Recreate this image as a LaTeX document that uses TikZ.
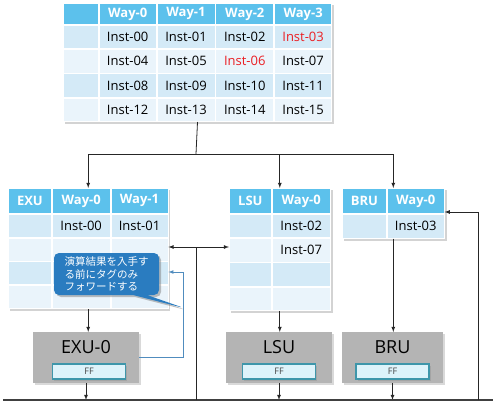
\documentclass[tikz,border=0pt]{standalone}
\usepackage{fontspec}
\setmainfont{Open Sans}
\newfontfamily\cjk{Noto Sans CJK JP}
\usepackage{tikz}
\usetikzlibrary{arrows,shapes,shadows,shapes.callouts}
\usetikzlibrary{positioning}
\usetikzlibrary{matrix}
\definecolor{hdr}{RGB}{92,193,236}
\definecolor{rowa}{RGB}{212,234,247}
\definecolor{rowb}{RGB}{234,244,251}
\definecolor{fugray}{RGB}{180,180,180}
\definecolor{ffbox}{RGB}{221,243,250}
\definecolor{ffline}{RGB}{62,150,170}
\definecolor{tagblue}{RGB}{42,124,192}
\definecolor{tagline}{RGB}{80,140,190}
\definecolor{instred}{RGB}{235,30,35}
\tikzstyle{tbl}=[matrix of nodes, nodes in empty cells, inner sep=0, outer sep=0,
  column sep=0, row sep=0, fill=white,
  drop shadow={shadow xshift=2pt, shadow yshift=-2pt, opacity=.35},
  nodes={draw=white, line width=.8pt, inner sep=0, outer sep=0, anchor=center,
         font=\fontsize{13}{13}\selectfont},
  row 1/.style={nodes={fill=hdr, text=white, font=\fontsize{13}{13}\selectfont\bfseries}},
  row 2/.style={nodes={fill=rowa}}, row 3/.style={nodes={fill=rowb}},
  row 4/.style={nodes={fill=rowa}}, row 5/.style={nodes={fill=rowb}}]
\tikzstyle{fu}=[fill=fugray, minimum height=51, inner sep=0, outer sep=0,
  font=\fontsize{18}{18}\selectfont, text height=13, text depth=22,
  drop shadow={shadow xshift=2pt, shadow yshift=-2pt, opacity=.3}]
\tikzstyle{ff}=[fill=ffbox, draw=ffline, line width=1.2pt, minimum width=73,
  minimum height=15, inner sep=0, outer sep=0, text=black!75,
  font=\fontsize{9}{9}\selectfont,
  drop shadow={shadow xshift=1.5pt, shadow yshift=-1.5pt, opacity=.3}]
\tikzstyle{wire}=[draw=black!85, line width=.8pt]
\tikzstyle{bus}=[draw=black!75, line width=1.1pt]
\tikzstyle{tagwire}=[draw=tagline, line width=.7pt]
\tikzstyle{note}=[rectangle callout, fill=tagblue, rounded corners=5pt,
  minimum width=105, minimum height=42, inner sep=0, text=white, align=left,
  callout pointer width=14pt, font=\cjk\fontsize{10.5}{12.5}\selectfont,
  drop shadow={shadow xshift=2pt, shadow yshift=-2pt, opacity=.5}]

\begin{document}
\begin{tikzpicture}[x=1pt,y=-1pt,>=latex]
  \useasboundingbox (0,0) rectangle (500,415);
  % instruction buffer
  \matrix (buf) [tbl, anchor=north west, nodes={minimum height=23.5},
    row 1/.append style={nodes={minimum height=21}},
    column 1/.style={nodes={minimum width=35}}, column 2/.style={nodes={minimum width=57}},
    column 3/.style={nodes={minimum width=58}}, column 4/.style={nodes={minimum width=58}},
    column 5/.style={nodes={minimum width=57}}] at (63,3) {
      & Way-0 & Way-1 & Way-2 & Way-3 \\
      & Inst-00 & Inst-01 & Inst-02 & |[text=instred]| Inst-03 \\
      & Inst-04 & Inst-05 & |[text=instred]| Inst-06 & Inst-07 \\
      & Inst-08 & Inst-09 & Inst-10 & Inst-11 \\
      & Inst-12 & Inst-13 & Inst-14 & Inst-15 \\
    };
  % reservation stations
  \matrix (exu) [tbl, anchor=north west, nodes={minimum height=23},
    row 1/.append style={nodes={minimum height=25}},
    column 1/.style={nodes={minimum width=43}}, column 2/.style={nodes={minimum width=58}},
    column 3/.style={nodes={minimum width=57}}] at (8,188) {
      EXU & Way-0 & Way-1 \\
      & Inst-00 & Inst-01 \\
      & & \\
      & & \\
      & & \\
    };
  \matrix (lsu) [tbl, anchor=north west, nodes={minimum height=23.5},
    row 1/.append style={nodes={minimum height=25}},
    column 1/.style={nodes={minimum width=42}}, column 2/.style={nodes={minimum width=58}}]
    at (229,188) {
      LSU & Way-0 \\
      & Inst-02 \\
      & Inst-07 \\
      & \\
      & \\
    };
  \matrix (bru) [tbl, anchor=north west, nodes={minimum height=24},
    row 1/.append style={nodes={minimum height=25}},
    column 1/.style={nodes={minimum width=44}}, column 2/.style={nodes={minimum width=57}}]
    at (342,188) {
      BRU & Way-0 \\
      & Inst-03 \\
    };
  % function units
  \node (exu0) [fu, minimum width=106] at (86,357.5) {EXU-0};
  \node (lsu0) [fu, minimum width=106] at (279,357.5) {LSU};
  \node (bru0) [fu, minimum width=101] at (392.5,357.5) {BRU};
  \node (ff0) [ff, above=4pt of exu0.south, xshift=3pt] {FF};
  \node (ff1) [ff, above=4pt of lsu0.south] {FF};
  \node (ff2) [ff, above=4pt of bru0.south] {FF};

  \coordinate (split) at (196,154);
  \coordinate (busL) at (3,400);
  \coordinate (busR) at (493,400);
  \coordinate (fwd) at (196,247);
  \coordinate (ret) at (478,212);
  \coordinate (tag) at (183,272);

  \draw[wire] (buf.south) -- (split);
  \draw[wire,->] (split) -| (exu.north);
  \draw[wire,->] (split) -| (lsu.north);
  \draw[wire,->] (split) -| (bru.north);
  \draw[wire,->] (exu.south) -- (exu.south |- exu0.north);
  \draw[wire,->] (lsu.south) -- (lsu.south |- lsu0.north);
  \draw[wire,->] (bru.south) -- (bru.south |- bru0.north);
  \draw[wire,->] (exu0.south) -- (exu0.south |- busL);
  \draw[wire,->] (lsu0.south) -- (lsu0.south |- busL);
  \draw[wire,->] (bru0.south) -- (bru0.south |- busL);
  \draw[bus] (busL) -- (busR);
  \draw[wire] (fwd |- busL) -- (fwd);
  \draw[wire,->] (fwd) -- (fwd -| exu.east);
  \draw[wire,->] (fwd) -- (fwd -| lsu.west);
  \draw[wire,->] (ret |- busL) -- (ret) -- (ret -| bru.east);
  \draw[tagwire,->] (exu0.east) -| (tag) -- (tag -| exu.east);

  \node (tagnote) [note, callout absolute pointer={(184,308)}] at (106.5,274)
    {演算結果を入手す\\る前にタグのみ\\フォワードする};
\end{tikzpicture}
\end{document}
